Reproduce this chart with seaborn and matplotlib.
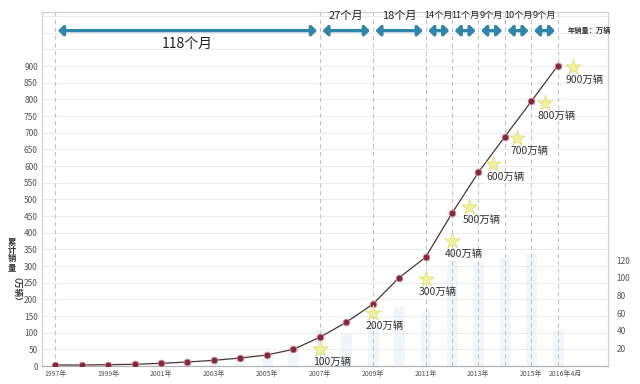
import pandas as pd
import seaborn as sns
import matplotlib.pyplot as plt

# data
periods = ["1997年", "1998年", "1999年", "2000年", "2001年", "2002年", "2003年", "2004年",
           "2005年", "2006年", "2007年", "2008年", "2009年", "2010年", "2011年", "2012年",
           "2013年", "2014年", "2015年", "2016年4月"]
cum_sales = [3, 3, 4, 5, 8, 12, 17, 24, 33, 50, 86, 131, 185, 265, 326, 458, 581, 688, 794, 901]
year_sales = [0.5, 2, 1.5, 2, 3.5, 4, 5, 13, 18, 25, 43, 38, 45, 68, 63, 120, 118, 125, 128, 42]

milestone_labels = ["100万辆", "200万辆", "300万辆", "400万辆", "500万辆",
                    "600万辆", "700万辆", "800万辆", "900万辆"]
milestone_pos = [10, 12, 14, 15, 15.66, 16.56, 17.47, 18.52, 19.57]
milestone_val = [52, 160, 262, 374, 476, 607, 685, 788, 898]

span_labels = ["118个月", "27个月", "18个月", "14个月", "11个月", "9个月", "10个月", "9个月"]
span_edges = [0, 10, 12, 14, 15, 16, 17, 18, 19]

df = pd.DataFrame({"pos": range(len(periods)), "period": periods,
                   "cum": cum_sales, "year": year_sales})
stars = pd.DataFrame({"pos": milestone_pos, "val": milestone_val})

sns.set_style("white")
plt.rcParams["font.family"] = ["Noto Sans CJK SC", "DejaVu Sans"]

fig = plt.figure(figsize=(6.4, 3.84), dpi=100)
ax = fig.add_axes([42 / 640, 18 / 384, 566 / 640, 354 / 384])
ax2 = ax.twinx()

# 1) yearly sales bars (right axis, faint)
sns.barplot(data=df, x="pos", y="year", native_scale=True, width=0.45,
            color="#edf5fb", errorbar=None, ax=ax2)
ax2.set_ylim(0, 402)
ax2.set_yticks(range(20, 121, 20))
ax2.tick_params(axis="y", labelsize=6, labelcolor="#555555", length=0, pad=6)
ax2.set_ylabel("")

# line axis sits above the bars
ax.set_zorder(ax2.get_zorder() + 1)
ax.patch.set_visible(False)

# grid
for v in range(50, 1051, 50):
    ax.axhline(v, color="#ececec", lw=0.7, zorder=0)
for e in span_edges:
    ax.axvline(e, color="#c4c4c4", lw=0.8, ls=(0, (4, 3)), zorder=0)

# 2) cumulative line
sns.lineplot(data=df, x="pos", y="cum", color="#4a3535", lw=0.9, marker="o",
             markersize=4.8, markerfacecolor="#7d2a3f", markeredgecolor="#d88a9a",
             markeredgewidth=0.6, ax=ax, zorder=3)

# 3) milestone stars
sns.scatterplot(data=stars, x="pos", y="val", marker="*", s=140, color="#f0f29a",
                edgecolor="#dadd78", linewidth=0.5, ax=ax, zorder=4)
for p, v, t in zip(milestone_pos, milestone_val, milestone_labels):
    ax.annotate(t, (p, v), xytext=(12, -13), textcoords="offset pixels",
                ha="center", va="center", fontsize=7.5, color="#333333", zorder=5)

# 4) month spans at the top
arrow_y = 1006
for i, t in enumerate(span_labels):
    a, b = span_edges[i], span_edges[i + 1]
    ax.annotate("", xy=(b, arrow_y), xytext=(a, arrow_y),
                arrowprops=dict(arrowstyle="<|-|>,head_length=0.3,head_width=0.3",
                                color="#2f86a8", lw=2.4, shrinkA=2, shrinkB=2))
    if i == 0:
        ax.text((a + b) / 2, 967, t, ha="center", va="center", fontsize=10, color="#222222")
    elif b - a > 1:
        ax.text((a + b) / 2, 1051, t, ha="center", va="center", fontsize=8, color="#222222")
    else:
        ax.text((a + b) / 2, 1051, t, ha="center", va="center", fontsize=6.6, color="#222222")
ax.text(20.2, arrow_y, "年销量：万辆", ha="center", va="center", fontsize=5.2,
        fontweight="bold", color="#333333")

ax.set_ylim(0, 1062)
ax.set_yticks(range(0, 901, 50))
ax.set_xlim(-0.5, 20.9)
tick_pos = list(range(0, 19, 2)) + [19.3]
ax.set_xticks(tick_pos)
ax.set_xticklabels([periods[i] for i in range(0, 19, 2)] + [periods[-1]])
ax.tick_params(axis="both", labelsize=6, labelcolor="#555555", length=0, pad=3)
ax.tick_params(axis="x", labelsize=5)
ax.set_xlabel("")
ax.set_ylabel("")
ax2.set_xlabel("")

for a in (ax, ax2):
    for s in a.spines.values():
        s.set_color("#d0d0d0")
        s.set_linewidth(0.8)
ax.spines["bottom"].set_color("#b0b0b0")

for k, ch in enumerate("累计销量"):
    fig.text(12 / 640, 1 - (242 + k * 8.5) / 384, ch, ha="center", va="center",
             fontsize=6, fontweight="bold", color="#333333")
fig.text(12 / 640, 1 - 294 / 384, "（万辆）", ha="center", va="center", rotation=270,
         fontsize=6, fontweight="bold", color="#333333")

fig.savefig("out.png", dpi=100)
